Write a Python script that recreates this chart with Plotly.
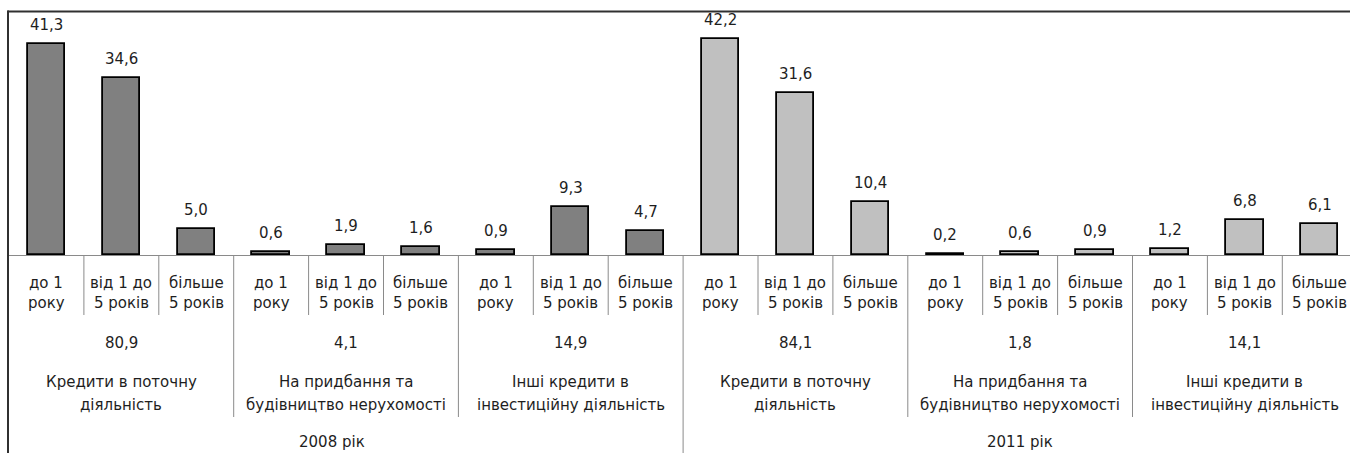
import plotly.graph_objects as go

# Loan structure by term, % of total
years = ["2008 рік", "2011 рік"]
groups = [
    ["Кредити в поточну", "діяльність"],
    ["На придбання та", "будівництво нерухомості"],
    ["Інші кредити в", "інвестиційну діяльність"],
]
terms = [["до 1", "року"], ["від 1 до", "5 років"], ["більше", "5 років"]]
values_2008 = [41.3, 34.6, 5.0, 0.6, 1.9, 1.6, 0.9, 9.3, 4.7]
values_2011 = [42.2, 31.6, 10.4, 0.2, 0.6, 0.9, 1.2, 6.8, 6.1]
totals_2008 = [80.9, 4.1, 14.9]
totals_2011 = [84.1, 1.8, 14.1]

FONT = "DejaVu Sans"
TXT = "#1e1e1e"
FS = 15
W, H = 1350, 453
PLOT_TOP, PLOT_BOTTOM, PLOT_LEFT = 11, 255, 9
PLOT_H = PLOT_BOTTOM - PLOT_TOP
PLOT_W = W - PLOT_LEFT
CAT_W = 74.9


def py(p):
    """Pixel row -> paper y."""
    return (PLOT_BOTTOM - p) / PLOT_H


def px(p):
    """Pixel column -> paper x."""
    return (p - PLOT_LEFT) / PLOT_W


def fmt(v):
    return f"{v:.1f}".replace(".", ",")


series = [
    (values_2008, "#808080", 0),
    (values_2011, "#c0c0c0", len(values_2008)),
]

fig = go.Figure()
annotations = []
for vals, color, offset in series:
    xs = [offset + i for i in range(len(vals))]
    fig.add_trace(go.Bar(
        x=xs, y=vals, width=0.5,
        marker=dict(color=color, line=dict(color="#000000", width=1.8)),
        hoverinfo="skip", showlegend=False,
    ))
    for x, v in zip(xs, vals):
        annotations.append(dict(
            x=x, y=v, xref="x", yref="y", text=fmt(v), showarrow=False,
            yanchor="middle", yshift=19, font=dict(family=FONT, size=FS, color=TXT),
        ))

n_cat = len(values_2008) + len(values_2011)

# term labels under each bar
for i in range(n_cat):
    l1, l2 = terms[i % 3]
    for text, yp in ((l1, 283), (l2, 303)):
        annotations.append(dict(
            x=i, y=py(yp), xref="x", yref="paper", text=text, showarrow=False,
            yanchor="middle", font=dict(family=FONT, size=FS, color=TXT),
        ))

# group totals and group names
all_totals = totals_2008 + totals_2011
for g in range(len(all_totals)):
    cx = 3 * g + 1
    annotations.append(dict(
        x=cx, y=py(343), xref="x", yref="paper", text=fmt(all_totals[g]),
        showarrow=False, yanchor="middle", font=dict(family=FONT, size=FS, color=TXT),
    ))
    l1, l2 = groups[g % 3]
    for text, yp in ((l1, 382), (l2, 405)):
        annotations.append(dict(
            x=cx, y=py(yp), xref="x", yref="paper", text=text, showarrow=False,
            yanchor="middle", font=dict(family=FONT, size=FS, color=TXT),
        ))

# year labels
for k, year in enumerate(years):
    annotations.append(dict(
        x=9 * k + 4, y=py(442), xref="x", yref="paper", text=year, showarrow=False,
        yanchor="middle", xshift=-14 if k == 0 else 0,
        font=dict(family=FONT, size=FS, color=TXT),
    ))

# divider lines of the category levels
shapes = []
for i in range(n_cat - 1):
    b = i + 1
    if b % 9 == 0:
        bottom = 470
    elif b % 3 == 0:
        bottom = 417
    else:
        bottom = 315
    shapes.append(dict(
        type="line", xref="x", yref="paper", x0=i + 0.5, x1=i + 0.5,
        y0=py(PLOT_BOTTOM), y1=py(bottom), line=dict(color="#8a8a8a", width=1),
    ))

# outer frame (top and left edges)
shapes.append(dict(type="line", xref="paper", yref="paper",
                   x0=px(7.5), x1=px(W + 5), y0=py(11.5), y1=py(11.5),
                   line=dict(color="#303030", width=2)))
shapes.append(dict(type="line", xref="paper", yref="paper",
                   x0=px(8), x1=px(8), y0=py(10.5), y1=py(H + 10),
                   line=dict(color="#303030", width=2)))

fig.update_layout(
    width=W, height=H,
    margin=dict(l=PLOT_LEFT, r=0, t=PLOT_TOP, b=H - PLOT_BOTTOM, pad=0),
    paper_bgcolor="white", plot_bgcolor="white",
    bargap=0,
    xaxis=dict(range=[-0.5, -0.5 + PLOT_W / CAT_W], showticklabels=False,
               showgrid=False, zeroline=False, ticks="",
               showline=True, linecolor="#8a8a8a", linewidth=1, fixedrange=True),
    yaxis=dict(range=[0, PLOT_H / 5.12], visible=False, fixedrange=True),
    annotations=annotations,
    shapes=shapes,
)

fig.write_html("out.html", config={"displayModeBar": False})
